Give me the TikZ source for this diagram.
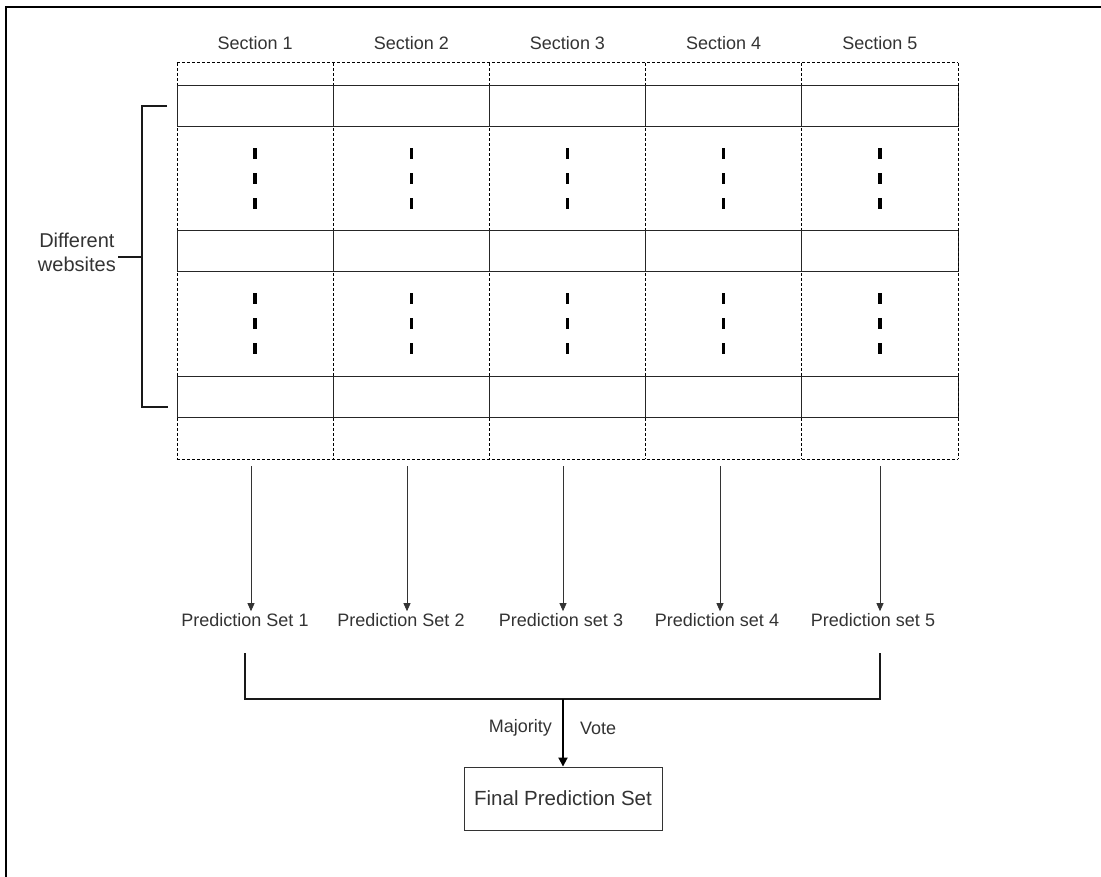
\documentclass[tikz,border=0pt]{standalone}
\usepackage{fontspec}
\setmainfont{Liberation Sans}
\usetikzlibrary{positioning,arrows.meta}
\definecolor{txtgray}{HTML}{333333}

\tikzset{
    lbl/.style={text=txtgray, font=\fontsize{18}{22}\selectfont, inner sep=2pt},
    colbox/.style={minimum width=156.2pt, minimum height=396pt, inner sep=0pt},
    dsh/.style={draw=black, dash pattern=on 3pt off 2pt, line width=0.6pt},
    cellbox/.style={draw=black!85, line width=0.9pt, minimum width=156.2pt, minimum height=41pt, inner sep=0pt},
    vdots/.style={line width=3.5pt, dash pattern=on 11pt off 14pt},
    arr/.style={draw=black!80, line width=0.8pt, -{Triangle[length=8pt,width=7pt]}},
    bigarr/.style={draw=black, line width=1.8pt, -{Triangle[length=9pt,width=9pt]}},
    brk/.style={draw=black!90, line width=1.8pt},
    finalbox/.style={draw=black!80, line width=0.9pt, minimum width=198pt, minimum height=63pt, text=txtgray, font=\fontsize{20.5}{24}\selectfont}
}

\begin{document}
\begin{tikzpicture}[x=1pt, y=-1pt]
        \useasboundingbox (0,0) rectangle (1101,877);
        % outer frame (only top and left edges show)
        \draw[line width=1.5pt] (6,877) -- (6,7) -- (1101,7);

        % --- Sections with their website rows ---
        \foreach \c/\ax/\px/\plbl in {1/251/245/Prediction Set 1, 2/407/401/Prediction Set 2, 3/563/561/Prediction set 3, 4/720/717/Prediction set 4, 5/880/873/Prediction set 5}
        {
            \node[colbox] (col-\c) at ({177+156.2*(\c-1)+78.1}, 261) {};
            \draw[dsh] (col-\c.north west) -- (col-\c.south west);
            \node[lbl] (sec-\c) at ({177+156.2*(\c-1)+78.1}, 43) {Section \c};
            \foreach \r/\ry in {1/105.5, 2/250.5, 3/396.5}
                \node[cellbox] (cell-\r-\c) at ({177+156.2*(\c-1)+78.1}, \ry) {};
            \draw[vdots] ([yshift=-22pt]cell-1-\c.south) -- ([yshift=21pt]cell-2-\c.north);
            \draw[vdots] ([yshift=-22pt]cell-2-\c.south) -- ([yshift=21pt]cell-3-\c.north);

            % arrow down to the prediction set
            \node[lbl] (pred-\c) at (\px, 620) {\plbl};
            \coordinate (top-\c) at (\ax, 466);
            \draw[arr] (top-\c) -- (top-\c |- pred-\c.north);
        }
        \draw[dsh] (col-5.north east) -- (col-5.south east);
        \draw[dsh] (col-1.north west) -- (col-5.north east);
        \draw[dsh] (col-1.south west) -- (col-5.south east);

        % --- Different websites bracket ---
        \coordinate (br-top) at (167, 106);
        \coordinate (br-bot) at (168, 407);
        \coordinate (br-mid) at (142, 257);
        \draw[brk] (br-top) -| (br-mid) |- (br-bot);
        \node[lbl, align=center, anchor=east, font=\fontsize{20}{24}\selectfont] (sites) at (118, 252) {Different\\websites};
        \draw[brk] (br-mid) -- (sites.east |- br-mid);

        % --- Majority vote ---
        \coordinate (v-l) at (245, 653);
        \coordinate (v-r) at (880, 653);
        \coordinate (vote) at (563, 699);
        \draw[brk] (v-l) |- (vote) -| (v-r);
        \node[finalbox] (final) at (563, 798.5) {Final Prediction Set};
        \draw[bigarr] (vote) -- (final.north);
        \node[lbl, anchor=east] (maj) at (554, 728) {Majority};
        \node[lbl, anchor=west] (vt) at (578, 728) {Vote};
    \end{tikzpicture}
\end{document}
